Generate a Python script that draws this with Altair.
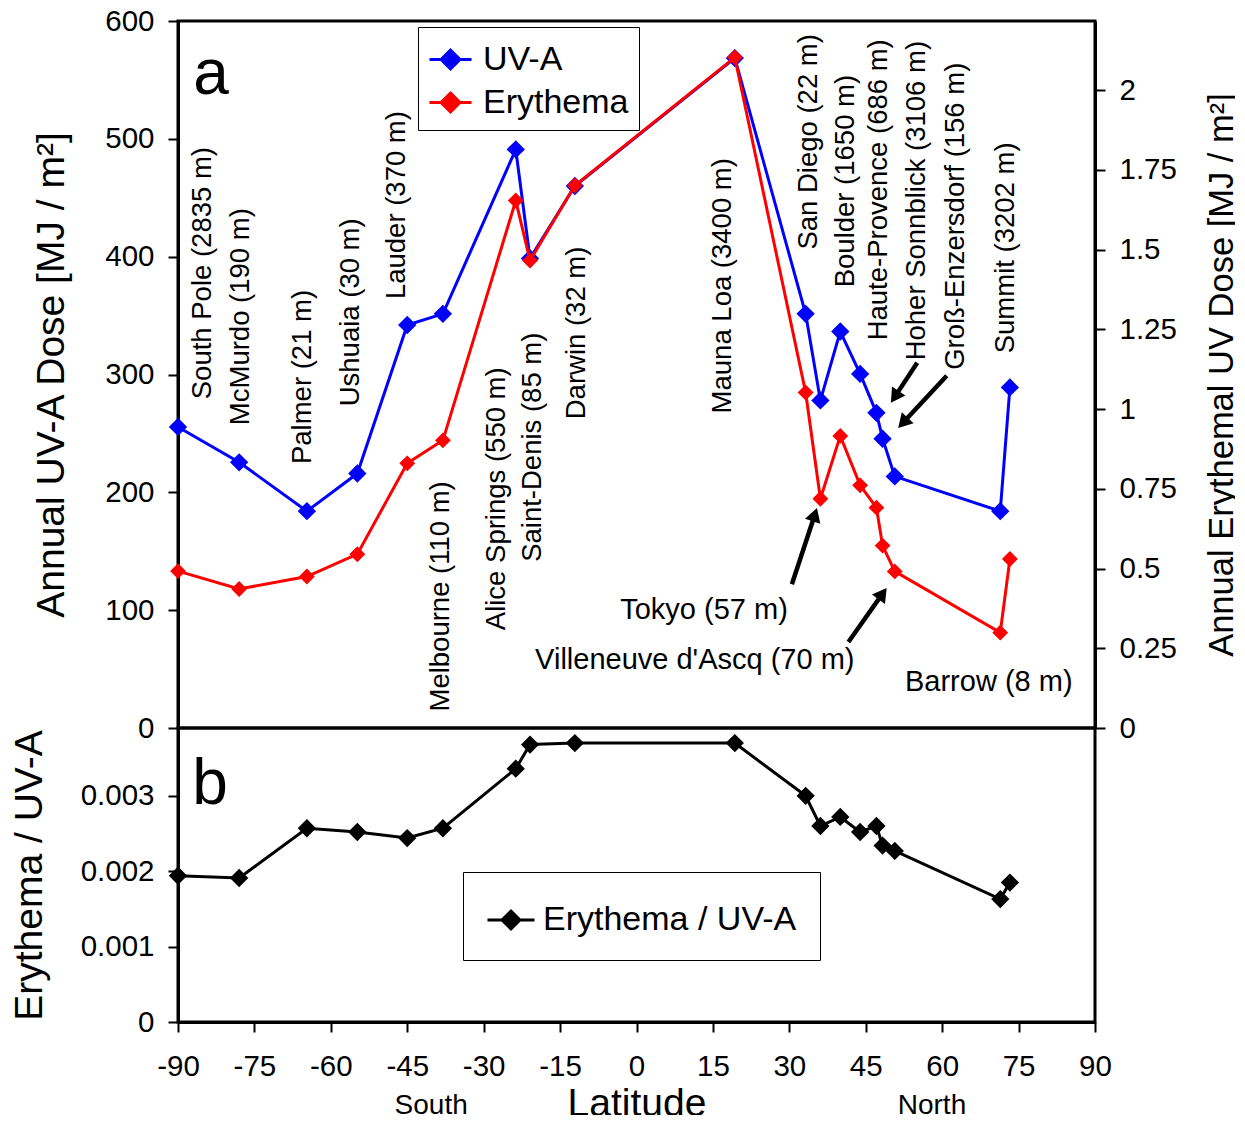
import altair as alt
import pandas as pd

FONT = "Liberation Sans"

# ---------------- data ----------------
sites = ["South Pole", "McMurdo", "Palmer", "Ushuaia", "Lauder", "Melbourne",
         "Alice Springs", "Saint-Denis", "Darwin", "Mauna Loa", "San Diego",
         "Tokyo", "Boulder", "Haute-Provence", "Hoher Sonnblick",
         "Groß-Enzersdorf", "Villeneuve d'Ascq", "Barrow", "Summit"]
latitude = [-90.0, -78.0, -64.7, -54.8, -45.0, -38.0, -23.7, -20.9, -12.1,
            19.3, 33.2, 36.1, 40.0, 43.9, 47.1, 48.3, 50.7, 71.4, 73.3]
uva_dose = [255.5, 225.5, 184.0, 216.0, 342.0, 351.5, 491.0, 398.5, 460.0,
            568.5, 351.5, 278.0, 336.5, 300.5, 267.5, 245.5, 213.5, 184.0, 289.0]
ery_dose = [0.492, 0.436, 0.475, 0.545, 0.830, 0.902, 1.654, 1.466, 1.701,
            2.103, 1.052, 0.719, 0.916, 0.761, 0.691, 0.572, 0.491, 0.299, 0.530]
ratio = [0.00194, 0.00191, 0.00257, 0.00252, 0.00244, 0.00257, 0.00336,
         0.00368, 0.00370, 0.00370, 0.00300, 0.00260, 0.00272, 0.00252,
         0.00260, 0.00234, 0.00227, 0.00163, 0.00185]

# site labels (vertical, reading upward) – anchor = start of text
vlabel_text = ["South Pole (2835 m)", "McMurdo (190 m)", "Palmer (21 m)",
               "Ushuaia (30 m)", "Lauder (370 m)", "Melbourne (110 m)",
               "Alice Springs (550 m)", "Saint-Denis (85 m)", "Darwin (32 m)",
               "Mauna Loa (3400 m)", "San Diego (22 m)", "Boulder (1650 m)",
               "Haute-Provence (686 m)", "Hoher Sonnblick (3106 m)",
               "Groß-Enzersdorf (156 m)", "Summit (3202 m)"]
vlabel_lat = [-85.0, -77.7, -65.4, -56.1, -47.1, -38.4, -27.3, -20.4, -11.7,
              16.9, 33.9, 41.1, 47.6, 55.1, 62.7, 72.5]
vlabel_uva = [279, 257, 224, 273, 364, 14, 83, 141, 262,
              267, 406, 374, 329, 312, 304, 318]

# horizontal site labels – anchor = left end
hlabel_text = ["Tokyo (57 m)", "Villeneuve d'Ascq (70 m)", "Barrow (8 m)"]
hlabel_lat = [-3.2, -19.9, 52.7]
hlabel_uva = [100, 58, 39]

# arrows: tail and head (in latitude / UV-A units)
arrow_lat0 = [55.1, 60.9, 30.5, 41.6]
arrow_uva0 = [310, 299, 122, 73]
arrow_lat1 = [50.7, 52.3, 35.0, 48.3]
arrow_uva1 = [281, 259, 181, 114]
arrow_angle = [214, 223, 18, 36]

series_top = ["UV-A", "Erythema"]
series_bot = ["Erythema / UV-A"]
lat_ticks = list(range(-90, 91, 15))
uva_ticks = [0, 100, 200, 300, 400, 500, 600]
ery_ticks = [0, 0.25, 0.5, 0.75, 1, 1.25, 1.5, 1.75, 2]
ratio_ticks = [0, 0.001, 0.002, 0.003]

# ---------------- tables ----------------
df_uva = pd.DataFrame({"lat": latitude, "uva": uva_dose, "series": series_top[0]})
df_ery = pd.DataFrame({"lat": latitude, "ery": ery_dose, "series": series_top[1]})
df_rat = pd.DataFrame({"lat": latitude, "ratio": ratio, "series": series_bot[0]})
df_vlab = pd.DataFrame({"text": vlabel_text, "lat": vlabel_lat, "uva": vlabel_uva})
df_hlab = pd.DataFrame({"text": hlabel_text, "lat": hlabel_lat, "uva": hlabel_uva})
df_arr = pd.DataFrame({"lat": arrow_lat0, "uva": arrow_uva0,
                       "lat2": arrow_lat1, "uva2": arrow_uva1, "ang": arrow_angle})
df_a = pd.DataFrame({"text": ["a"], "lat": [-83.5], "uva": [538]})
df_b = pd.DataFrame({"text": ["b"], "lat": [-83.7], "ratio": [0.00289]})
df_sn = pd.DataFrame({"text": ["South", "North"], "lat": [-40.3, 58.0],
                      "ratio": [-0.00112, -0.00112]})

# ---------------- scales & axes ----------------
xs = alt.Scale(domain=[-90, 90], nice=False, zero=False)
ys_uva = alt.Scale(domain=[0, 600], nice=False)
ys_ery = alt.Scale(domain=[0, 2.217], nice=False)
ys_rat = alt.Scale(domain=[0, 0.0039], nice=False)

ax_uva = alt.Axis(values=uva_ticks, orient="left",
                  title="Annual UV-A Dose [MJ / m²]",
                  labelPadding=14, titlePadding=33, titleFontSize=39)
ax_ery = alt.Axis(values=ery_ticks, orient="right",
                  title="Annual Erythemal UV Dose [MJ / m²]",
                  labelExpr="'' + datum.value",
                  labelPadding=14, titlePadding=29, titleFontSize=34.5,
                  titleAngle=270, titleBaseline="top")
ax_lat = alt.Axis(values=lat_ticks, title="Latitude",
                  labelExpr="'' + datum.value",
                  labelPadding=20, titlePadding=4, titleFontSize=39)
ax_rat = alt.Axis(values=ratio_ticks, title="Erythema / UV-A",
                  labelExpr="'' + datum.value",
                  labelPadding=14, titlePadding=31, titleFontSize=39)

S_top = alt.Scale(domain=series_top, range=["#0000ff", "#ff0000"])
S_bot = alt.Scale(domain=series_bot, range=["#000000"])

PATH_TOP = "M-1,0L1,0M0,-0.45L0.45,0L0,0.45L-0.45,0Z"
PATH_BOT = "M-1,0L1,0M0,-0.38L0.38,0L0,0.38L-0.38,0Z"

leg_top = alt.Legend(title=None, orient="none", legendX=240, legendY=6,
                     symbolType=PATH_TOP, symbolSize=1764, symbolStrokeWidth=3,
                     labelFontSize=34, labelFont=FONT, labelColor="black",
                     labelOffset=10, labelLimit=500, strokeColor="black",
                     fillColor="white", padding=10, rowPadding=3, cornerRadius=0)
leg_bot = alt.Legend(title=None, orient="none", legendX=285, legendY=144,
                     symbolType=PATH_BOT, symbolSize=2209, symbolStrokeWidth=3,
                     labelFontSize=34, labelFont=FONT, labelColor="black",
                     labelOffset=7, labelLimit=500, strokeColor="black",
                     fillColor="white", padding=23, cornerRadius=0)

x_top = alt.X("lat:Q", scale=xs, axis=None)
y_uva = alt.Y("uva:Q", scale=ys_uva, axis=ax_uva)
y_ery = alt.Y("ery:Q", scale=ys_ery, axis=ax_ery)
x_bot = alt.X("lat:Q", scale=xs, axis=ax_lat)
y_rat = alt.Y("ratio:Q", scale=ys_rat, axis=ax_rat)

# ---------------- top panel ----------------
uva_line = alt.Chart(df_uva).mark_line(color="#0000ff", strokeWidth=3).encode(
    x=x_top, y=y_uva)
uva_pts = alt.Chart(df_uva).mark_point(shape="diamond", filled=True, size=240,
                                       opacity=1, strokeWidth=2).encode(
    x=x_top, y=y_uva,
    fill=alt.Fill("series:N", scale=S_top, legend=leg_top),
    stroke=alt.Stroke("series:N", scale=S_top, legend=leg_top),
)
vtext = alt.Chart(df_vlab).mark_text(angle=270, align="left", baseline="middle",
                                     fontSize=27.5, font=FONT, color="black").encode(
    x=x_top, y=y_uva, text="text:N")
htext = alt.Chart(df_hlab).mark_text(align="left", baseline="middle",
                                     fontSize=29, font=FONT, color="black").encode(
    x=x_top, y=y_uva, text="text:N")
arr_rule = alt.Chart(df_arr).mark_rule(color="black", strokeWidth=4.5).encode(
    x=x_top, y=y_uva, x2="lat2:Q", y2="uva2:Q")
arr_head = alt.Chart(df_arr).mark_point(shape="triangle-up", filled=True,
                                        color="black", size=260, opacity=1).encode(
    x=alt.X("lat2:Q", scale=xs, axis=None),
    y=alt.Y("uva2:Q", scale=ys_uva, axis=ax_uva),
    angle=alt.Angle("ang:Q", scale=None))
letter_a = alt.Chart(df_a).mark_text(fontSize=64, font=FONT, align="center",
                                     baseline="alphabetic", color="black").encode(
    x=x_top, y=y_uva, text="text:N")

ery_line = alt.Chart(df_ery).mark_line(color="#ff0000", strokeWidth=3).encode(
    x=x_top, y=y_ery)
ery_pts = alt.Chart(df_ery).mark_point(shape="diamond", filled=True, size=170,
                                       opacity=1, strokeWidth=2).encode(
    x=x_top, y=y_ery,
    fill=alt.Fill("series:N", scale=S_top, legend=leg_top),
    stroke=alt.Stroke("series:N", scale=S_top, legend=leg_top),
)

uva_layer = alt.layer(uva_line, vtext, htext, arr_rule, arr_head, letter_a, uva_pts)
ery_layer = alt.layer(ery_line, ery_pts)
top = alt.layer(uva_layer, ery_layer).resolve_scale(y="independent").properties(
    width=917, height=707)

# ---------------- bottom panel ----------------
rat_line = alt.Chart(df_rat).mark_line(color="black", strokeWidth=3).encode(
    x=x_bot, y=y_rat)
rat_pts = alt.Chart(df_rat).mark_point(shape="diamond", filled=True, size=240,
                                       opacity=1, strokeWidth=2).encode(
    x=x_bot, y=y_rat,
    fill=alt.Fill("series:N", scale=S_bot, legend=leg_bot),
    stroke=alt.Stroke("series:N", scale=S_bot, legend=leg_bot),
)
letter_b = alt.Chart(df_b).mark_text(fontSize=64, font=FONT, align="center",
                                     baseline="alphabetic", color="black").encode(
    x=x_bot, y=y_rat, text="text:N")
sn_text = alt.Chart(df_sn).mark_text(fontSize=28, font=FONT, align="center",
                                     baseline="middle", color="black").encode(
    x=x_bot, y=y_rat, text="text:N")

bot = alt.layer(rat_line, rat_pts, letter_b, sn_text).properties(width=917, height=294)

chart = alt.vconcat(top, bot, spacing=0, bounds="flush").resolve_scale(
    fill="independent", stroke="independent", x="independent"
).properties(
    padding={"left": 0, "top": -4, "right": -6, "bottom": -10}
).configure(font=FONT).configure_view(
    stroke="black", strokeWidth=3
).configure_axis(
    grid=False, domainColor="black", domainWidth=3, tickColor="black",
    tickWidth=2, tickSize=10, labelFontSize=29.5, labelColor="black",
    labelFont=FONT, titleFont=FONT, titleFontWeight="normal",
    titleColor="black", labelFlush=False
)

chart.save("out.html", embed_options={"renderer": "svg", "actions": False})
